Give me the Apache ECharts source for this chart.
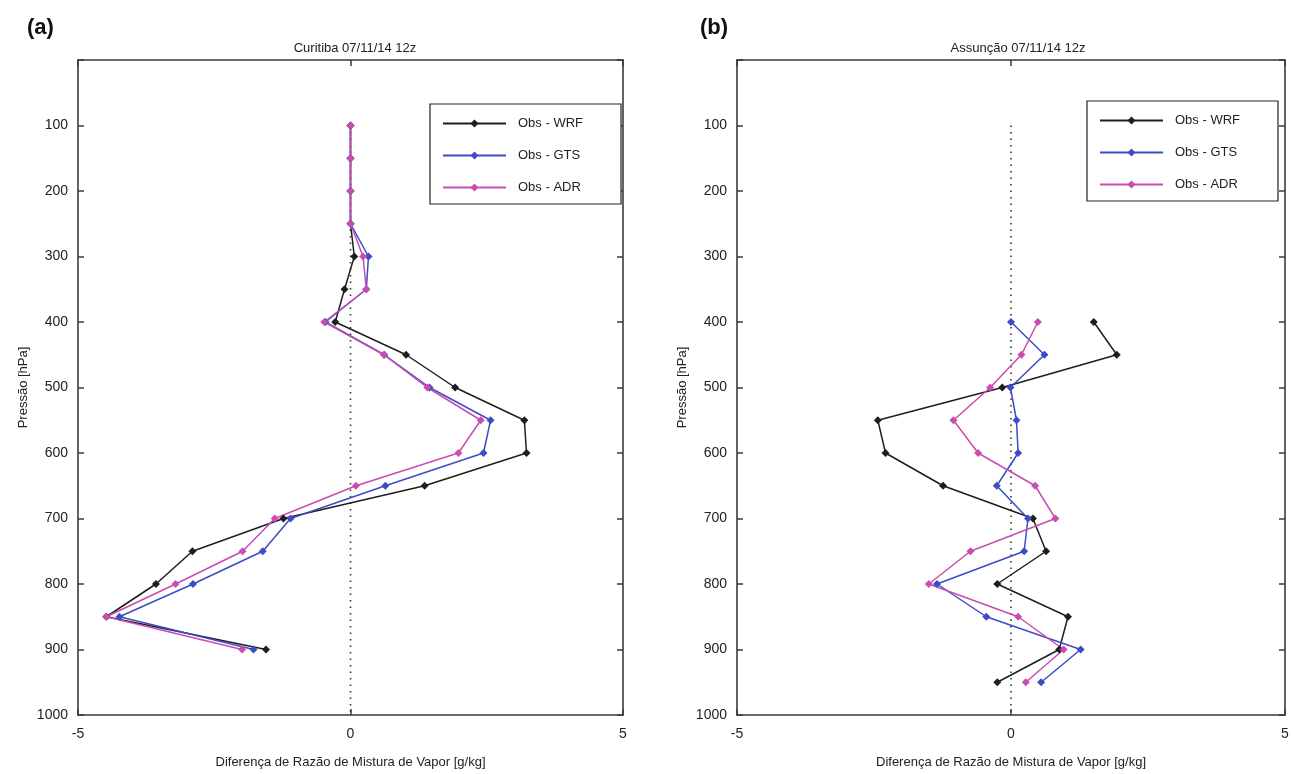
<!DOCTYPE html>
<html>
<head>
<meta charset="utf-8">
<script src="https://cdn.jsdelivr.net/npm/echarts@6/dist/echarts.min.js"></script>
<style>html,body{margin:0;padding:0;background:#fff}#c{width:1294px;height:774px}</style>
</head>
<body>
<div id="c"></div>
<script>
// ---- data ----
const seriesNames = ['Obs - WRF', 'Obs - GTS', 'Obs - ADR'];
const colors = ['#1e1e1e', '#3b4cc4', '#c94cb2'];
const yTicks = [0, 100, 200, 300, 400, 500, 600, 700, 800, 900, 1000];
const xTicks = [-5, 0, 5];

// Panel (a) Curitiba
const levelsA = [100, 150, 200, 250, 300, 350, 400, 450, 500, 550, 600, 650, 700, 750, 800, 850, 900];
const wrfA = [0, 0, 0, 0, 0.07, -0.11, -0.28, 1.02, 1.92, 3.19, 3.23, 1.36, -1.23, -2.9, -3.57, -4.48, -1.55];
const gtsA = [0, 0, 0, 0, 0.33, 0.29, -0.46, 0.62, 1.45, 2.57, 2.44, 0.64, -1.1, -1.61, -2.89, -4.24, -1.78];
const adrA = [0, 0, 0, 0, 0.23, 0.29, -0.48, 0.61, 1.41, 2.39, 1.98, 0.1, -1.39, -1.98, -3.21, -4.48, -1.99];

// Panel (b) Assunção
const levelsB = [400, 450, 500, 550, 600, 650, 700, 750, 800, 850, 900, 950];
const wrfB = [1.51, 1.93, -0.16, -2.43, -2.29, -1.24, 0.40, 0.64, -0.25, 1.04, 0.88, -0.25];
const gtsB = [0.0, 0.61, -0.01, 0.10, 0.13, -0.26, 0.31, 0.24, -1.35, -0.45, 1.27, 0.55];
const adrB = [0.49, 0.19, -0.38, -1.05, -0.60, 0.44, 0.81, -0.74, -1.50, 0.13, 0.96, 0.27];

// zero reference line (pressure extent)
const zeroLine = [[0, 100], [0, 1000]];

const titles = ['Curitiba 07/11/14 12z', 'Assunção 07/11/14 12z'];
const panelTags = ['(a)', '(b)'];
const xName = 'Diferença de Razão de Mistura de Vapor [g/kg]';
const yName = 'Pressão [hPa]';

// ---- chart ----
const FONT = 'Liberation Sans, Arial, sans-serif';
const axisCol = '#3a3a3a';
const chart = echarts.init(document.getElementById('c'), null, {renderer: 'canvas'});

const grids = [
  {left: 78, right: 671, top: 60, bottom: 59},
  {left: 737, right: 9, top: 60, bottom: 59}
];

function pairs(vals, levels) { return vals.map((v, i) => [v, levels[i]]); }

const lineSty = {show: true, onZero: false, lineStyle: {color: axisCol, width: 1.6}};
const tickSty = {show: true, inside: true, length: 6, lineStyle: {color: axisCol, width: 1.5}};

const xAxes = [], yAxes = [];
grids.forEach((g, gi) => {
  xAxes.push({
    type: 'value', gridIndex: gi, position: 'bottom', min: xTicks[0], max: xTicks[xTicks.length - 1], interval: 5,
    axisLine: lineSty, axisTick: tickSty,
    axisLabel: {fontFamily: FONT, fontSize: 14, color: '#222', margin: 12},
    splitLine: {show: false},
    name: xName, nameLocation: 'middle', nameGap: 41,
    nameTextStyle: {fontFamily: FONT, fontSize: 13, color: '#222'}
  });
  xAxes.push({
    type: 'value', gridIndex: gi, position: 'top', min: -5, max: 5, interval: 5,
    axisLine: lineSty, axisTick: tickSty,
    axisLabel: {show: false}, splitLine: {show: false}
  });
  yAxes.push({
    type: 'value', gridIndex: gi, position: 'left', inverse: true, min: 0, max: 1000, interval: 100,
    axisLine: lineSty, axisTick: tickSty,
    axisLabel: {fontFamily: FONT, fontSize: 14, color: '#222', margin: 10,
      formatter: v => (v === 0 ? '' : String(v))},
    splitLine: {show: false},
    name: yName, nameLocation: 'middle', nameGap: 48, nameRotate: 90,
    nameTextStyle: {fontFamily: FONT, fontSize: 13, color: '#222'}
  });
  yAxes.push({
    type: 'value', gridIndex: gi, position: 'right', inverse: true, min: 0, max: 1000, interval: 100,
    axisLine: lineSty, axisTick: tickSty,
    axisLabel: {show: false}, splitLine: {show: false}
  });
});

function lineSeries(name, color, vals, levels, gi) {
  return {
    type: 'line', name: name, xAxisIndex: gi * 2, yAxisIndex: gi * 2,
    data: pairs(vals, levels),
    symbol: 'diamond', symbolSize: 8,
    lineStyle: {color: color, width: 1.5},
    itemStyle: {color: color},
    emphasis: {disabled: true}, animation: false, z: 3
  };
}
function zeroSeries(gi) {
  return {
    type: 'line', name: 'zero', xAxisIndex: gi * 2, yAxisIndex: gi * 2,
    data: zeroLine, symbol: 'none',
    lineStyle: {color: '#333', width: 1.6, type: [1.5, 5]},
    animation: false, z: 1, silent: true
  };
}

const series = [
  zeroSeries(0),
  lineSeries(seriesNames[0], colors[0], wrfA, levelsA, 0),
  lineSeries(seriesNames[1], colors[1], gtsA, levelsA, 0),
  lineSeries(seriesNames[2], colors[2], adrA, levelsA, 0),
  zeroSeries(1),
  lineSeries(seriesNames[0], colors[0], wrfB, levelsB, 1),
  lineSeries(seriesNames[1], colors[1], gtsB, levelsB, 1),
  lineSeries(seriesNames[2], colors[2], adrB, levelsB, 1)
];

function legendAt(left, top) {
  return {
    data: seriesNames, orient: 'vertical', left: left, top: top,
    borderColor: '#222', borderWidth: 1.2, backgroundColor: '#fff',
    padding: [13, 38, 10, 12], itemWidth: 63, itemHeight: 10, itemGap: 19,
    selectedMode: false,
    textStyle: {fontFamily: FONT, fontSize: 13, color: '#222', padding: [0, 0, 0, 7]}
  };
}

chart.setOption({
  animation: false,
  backgroundColor: '#fff',
  grid: grids,
  title: [
    {text: panelTags[0], left: 22, top: 12, textStyle: {fontFamily: FONT, fontSize: 22, fontWeight: 'bold', color: '#111'}},
    {text: titles[0], left: 350, top: 37, textAlign: 'center', textStyle: {fontFamily: FONT, fontSize: 13, fontWeight: 'normal', color: '#222'}},
    {text: panelTags[1], left: 695, top: 12, textStyle: {fontFamily: FONT, fontSize: 22, fontWeight: 'bold', color: '#111'}},
    {text: titles[1], left: 1013, top: 37, textAlign: 'center', textStyle: {fontFamily: FONT, fontSize: 13, fontWeight: 'normal', color: '#222'}}
  ],
  legend: [legendAt(430, 104), legendAt(1087, 101)],
  xAxis: xAxes,
  yAxis: yAxes,
  series: series
});
</script>
</body>
</html>
